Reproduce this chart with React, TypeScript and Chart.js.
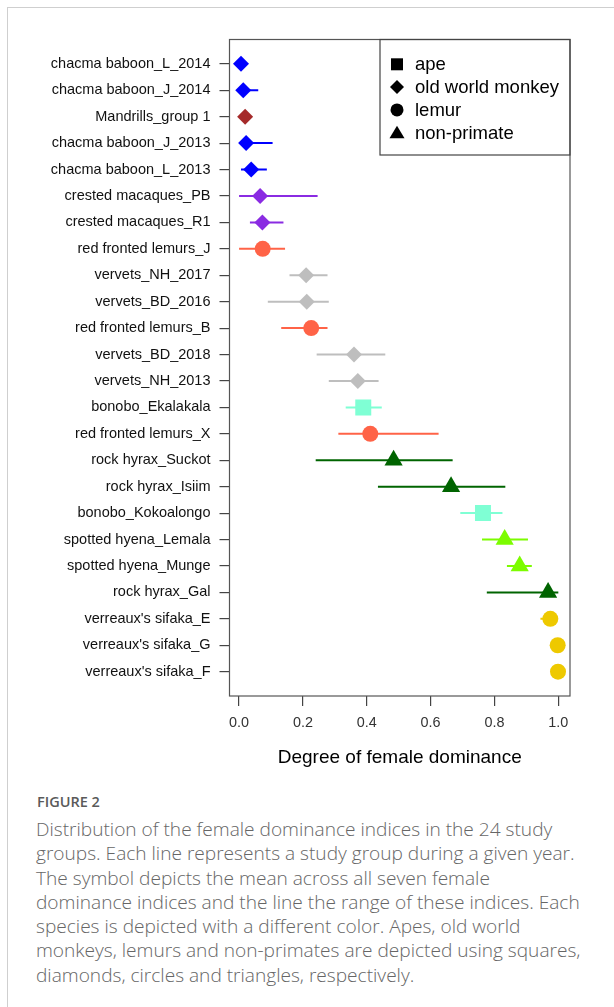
import React, { useEffect, useRef } from "react";
import { Chart, registerables } from "chart.js";

Chart.register(...registerables);

// ---- data (top = first) ----
const groups = [
  "chacma baboon_L_2014",
  "chacma baboon_J_2014",
  "Mandrills_group 1",
  "chacma baboon_J_2013",
  "chacma baboon_L_2013",
  "crested macaques_PB",
  "crested macaques_R1",
  "red fronted lemurs_J",
  "vervets_NH_2017",
  "vervets_BD_2016",
  "red fronted lemurs_B",
  "vervets_BD_2018",
  "vervets_NH_2013",
  "bonobo_Ekalakala",
  "red fronted lemurs_X",
  "rock hyrax_Suckot",
  "rock hyrax_Isiim",
  "bonobo_Kokoalongo",
  "spotted hyena_Lemala",
  "spotted hyena_Munge",
  "rock hyrax_Gal",
  "verreaux's sifaka_E",
  "verreaux's sifaka_G",
  "verreaux's sifaka_F",
];

const means = [
  0.006, 0.013, 0.019, 0.022, 0.038, 0.066, 0.073, 0.074, 0.21, 0.212, 0.226, 0.36,
  0.372, 0.389, 0.411, 0.484, 0.664, 0.764, 0.832, 0.879, 0.968, 0.975, 0.998, 0.999,
];
const lows = [
  0.002, 0.0, 0.015, 0.0, 0.006, 0.0, 0.034, 0.0, 0.158, 0.09, 0.132, 0.243,
  0.281, 0.334, 0.311, 0.24, 0.435, 0.693, 0.761, 0.839, 0.776, 0.944, 0.995, 0.997,
];
const highs = [
  0.01, 0.06, 0.023, 0.105, 0.087, 0.246, 0.139, 0.144, 0.277, 0.281, 0.277, 0.458,
  0.437, 0.447, 0.625, 0.669, 0.834, 0.825, 0.905, 0.917, 1.0, 0.99, 1.0, 1.0,
];
const species = [
  "chacma baboon", "chacma baboon", "mandrill", "chacma baboon", "chacma baboon",
  "crested macaque", "crested macaque", "red fronted lemur", "vervet", "vervet",
  "red fronted lemur", "vervet", "vervet", "bonobo", "red fronted lemur",
  "rock hyrax", "rock hyrax", "bonobo", "spotted hyena", "spotted hyena",
  "rock hyrax", "verreaux's sifaka", "verreaux's sifaka", "verreaux's sifaka",
];
const taxa = [
  "old world monkey", "old world monkey", "old world monkey", "old world monkey", "old world monkey",
  "old world monkey", "old world monkey", "lemur", "old world monkey", "old world monkey",
  "lemur", "old world monkey", "old world monkey", "ape", "lemur",
  "non-primate", "non-primate", "ape", "non-primate", "non-primate",
  "non-primate", "lemur", "lemur", "lemur",
];
const xTicks = [0, 0.2, 0.4, 0.6, 0.8, 1.0];
const legendLabels = ["ape", "old world monkey", "lemur", "non-primate"];
const xTitle = "Degree of female dominance";

// ---- styles ----
const speciesColor: Record<string, string> = {
  "chacma baboon": "#0000FF",
  mandrill: "#A52A2A",
  "crested macaque": "#8A2BE2",
  "red fronted lemur": "#FF6347",
  vervet: "#BEBEBE",
  bonobo: "#7FFFD4",
  "rock hyrax": "#006400",
  "spotted hyena": "#7CFC00",
  "verreaux's sifaka": "#EEC900",
};
const taxonShape: Record<string, { style: string; radius: number }> = {
  ape: { style: "rect", radius: 11.3 },
  "old world monkey": { style: "rectRot", radius: 8 },
  lemur: { style: "circle", radius: 8 },
  "non-primate": { style: "triangle", radius: 10.5 },
};

const FONT = '"Liberation Sans", Arial, Helvetica, sans-serif';

export default function App() {
  const ref = useRef<HTMLCanvasElement>(null);

  useEffect(() => {
    if (!ref.current) return;

    const frameLegend = {
      id: "frameLegend",
      afterDraw(chart: any) {
        const { ctx, chartArea: a } = chart;
        ctx.save();
        ctx.strokeStyle = "#555";
        ctx.lineWidth = 1.2;
        ctx.strokeRect(a.left, a.top, a.right - a.left, a.bottom - a.top);
        const lx = a.right - 190;
        const ly = a.top;
        ctx.strokeStyle = "#444";
        ctx.strokeRect(lx, ly, 190, 115.5);
        legendLabels.forEach((lab, i) => {
          const cy = ly + 24.8 + i * 22.8;
          const cx = a.right - 173;
          ctx.fillStyle = "#000";
          ctx.beginPath();
          if (lab === "ape") {
            ctx.rect(cx - 6, cy - 6, 12, 12);
          } else if (lab === "old world monkey") {
            ctx.moveTo(cx, cy - 7);
            ctx.lineTo(cx + 7, cy);
            ctx.lineTo(cx, cy + 7);
            ctx.lineTo(cx - 7, cy);
            ctx.closePath();
          } else if (lab === "lemur") {
            ctx.arc(cx, cy, 6.5, 0, Math.PI * 2);
          } else {
            ctx.moveTo(cx, cy - 7);
            ctx.lineTo(cx + 7.5, cy + 5.5);
            ctx.lineTo(cx - 7.5, cy + 5.5);
            ctx.closePath();
          }
          ctx.fill();
          ctx.font = `18.5px ${FONT}`;
          ctx.textBaseline = "middle";
          ctx.textAlign = "left";
          ctx.fillText(lab, a.right - 155, cy + 1);
        });
        ctx.restore();
      },
    };

    const lineSets = groups.map((g, i) => ({
      type: "line" as const,
      label: g,
      data: [
        { x: lows[i], y: i + 1 },
        { x: highs[i], y: i + 1 },
      ],
      borderColor: speciesColor[species[i]],
      borderWidth: 2,
      pointRadius: 0,
      showLine: true,
      order: 2,
    }));

    const markerSet = {
      type: "scatter" as const,
      label: "mean",
      data: means.map((m, i) => ({ x: m, y: i + 1 })),
      pointStyle: taxa.map((t) => taxonShape[t].style),
      pointRadius: taxa.map((t) => taxonShape[t].radius),
      pointBackgroundColor: species.map((s) => speciesColor[s]),
      pointBorderColor: species.map((s) => speciesColor[s]),
      pointBorderWidth: 0,
      order: 1,
    };

    const chart = new Chart(ref.current, {
      type: "scatter",
      data: { datasets: [markerSet as any, ...(lineSets as any)] },
      options: {
        animation: false,
        responsive: false,
        events: [],
        layout: { padding: { top: 39.5, right: 44, left: 0, bottom: 0 } },
        plugins: { legend: { display: false }, tooltip: { enabled: false } },
        scales: {
          x: {
            type: "linear",
            min: -0.03,
            max: 1.0366,
            afterBuildTicks: (s: any) => {
              s.ticks = xTicks.map((v) => ({ value: v }));
            },
            afterFit: (s: any) => {
              s.height = 94;
            },
            grid: {
              drawOnChartArea: false,
              drawTicks: true,
              tickLength: 10,
              color: "#444",
              lineWidth: 1.2,
            },
            border: { display: false },
            ticks: {
              callback: (v: any) => Number(v).toFixed(1),
              font: { family: FONT, size: 14.4 },
              color: "#333",
              padding: 8,
              maxRotation: 0,
              autoSkip: false,
            },
            title: {
              display: true,
              text: xTitle,
              font: { family: FONT, size: 19 },
              color: "#000",
              padding: { top: 0, bottom: 20.6 },
            },
          },
          y: {
            type: "linear",
            reverse: true,
            min: 0.08,
            max: 24.92,
            afterBuildTicks: (s: any) => {
              s.ticks = groups.map((_, i) => ({ value: i + 1 }));
            },
            afterFit: (s: any) => {
              s.width = 229.5;
            },
            grid: {
              drawOnChartArea: false,
              drawTicks: true,
              tickLength: 10,
              color: "#444",
              lineWidth: 1.2,
            },
            border: { display: false },
            ticks: {
              callback: (v: any) => groups[Math.round(Number(v)) - 1],
              font: { family: FONT, size: 14.5 },
              color: "#111",
              padding: 9,
              autoSkip: false,
            },
          },
        },
      },
      plugins: [frameLegend],
    } as any);

    return () => chart.destroy();
  }, []);

  const captionLines = [
    "Distribution of the female dominance indices in the 24 study",
    "groups. Each line represents a study group during a given year.",
    "The symbol depicts the mean across all seven female",
    "dominance indices and the line the range of these indices. Each",
    "species is depicted with a different color. Apes, old world",
    "monkeys, lemurs and non-primates are depicted using squares,",
    "diamonds, circles and triangles, respectively.",
  ];

  return (
    <div
      style={{
        position: "absolute",
        left: 0,
        top: 0,
        width: 614,
        height: 1007,
        background: "#fff",
        overflow: "hidden",
      }}
    >
      <div
        style={{
          position: "absolute",
          left: 7,
          top: 7,
          width: 620,
          height: 1010,
          borderLeft: "1.5px solid #cfcfcf",
          borderTop: "1.5px solid #cfcfcf",
        }}
      />
      <canvas
        ref={ref}
        width={614}
        height={790}
        style={{ position: "absolute", left: 0, top: 0 }}
      />
      <div
        style={{
          position: "absolute",
          left: 37,
          top: 792,
          fontFamily: '"Open Sans", sans-serif',
          fontWeight: 600,
          fontSize: 14.5,
          lineHeight: "20px",
          color: "#5a5a5a",
          whiteSpace: "nowrap",
        }}
      >
        FIGURE 2
      </div>
      <div
        style={{
          position: "absolute",
          left: 36,
          top: 817,
          fontFamily: '"Open Sans", sans-serif',
          fontWeight: 300,
          fontSize: 19.1,
          lineHeight: "24.3px",
          color: "#666",
          whiteSpace: "nowrap",
        }}
      >
        {captionLines.map((l, i) => (
          <div key={i}>{l}</div>
        ))}
      </div>
    </div>
  );
}
